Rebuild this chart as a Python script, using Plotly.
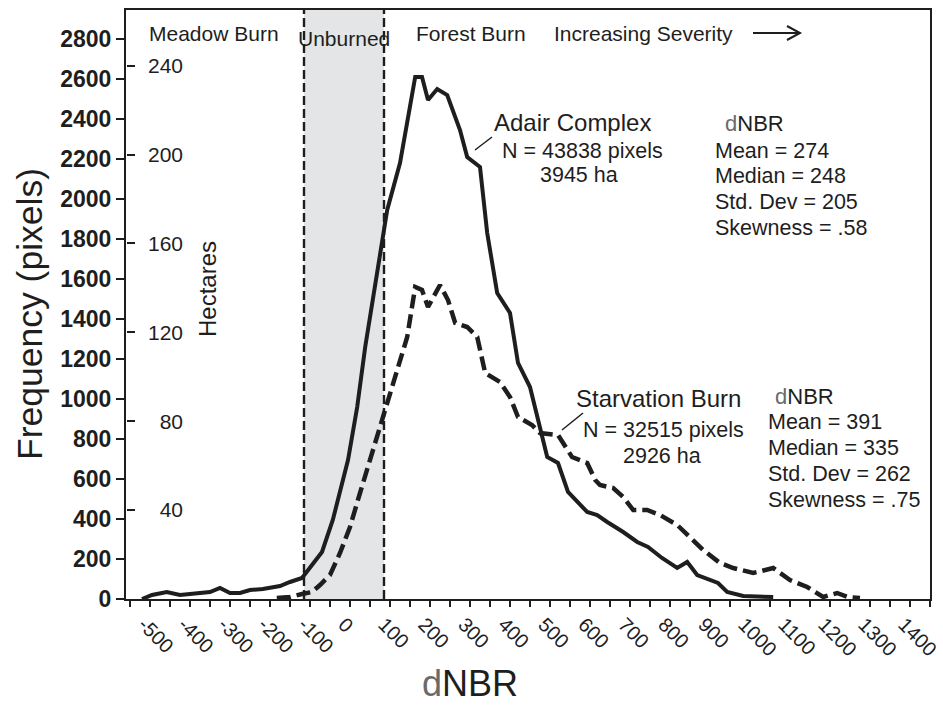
import plotly.graph_objects as go

# ---------------- data ----------------
adair_dnbr = [-505, -480, -443, -410, -360, -335, -310, -285, -260, -235, -203, -160, -135, -105,
              -80, -55, -28, 10, 33, 53, 108, 140, 178, 195, 210, 233, 258, 290, 308, 340, 358,
              383, 415, 435, 465, 490, 508, 535, 560, 608, 633, 658, 698, 733, 760, 795, 833,
              858, 883, 935, 958, 998, 1073]
adair_freq = [0, 20, 35, 20, 30, 35, 55, 30, 30, 45, 50, 65, 85, 105,
              170, 235, 395, 695, 960, 1260, 1945, 2180, 2610, 2610, 2495, 2550, 2520, 2345, 2210, 2160, 1830,
              1530, 1430, 1180, 1060, 845, 710, 680, 535, 435, 420, 385, 335, 285, 260, 205, 155,
              185, 120, 80, 35, 15, 10]

starv_dnbr = [-168, -135, -105, -80, -60, -35, -10, 15, 40, 65, 98, 123, 158, 178, 195, 210, 240,
              260, 278, 308, 333, 353, 390, 415, 435, 470, 490, 535, 548, 570, 608, 628, 640, 673,
              698, 723, 758, 790, 833, 865, 898, 940, 973, 1023, 1073, 1115, 1158, 1198, 1233,
              1260, 1290]
starv_freq = [5, 10, 25, 35, 70, 120, 230, 360, 530, 695, 895, 1060, 1310, 1560, 1545, 1460, 1570,
              1495, 1380, 1360, 1310, 1130, 1085, 1010, 910, 870, 830, 820, 780, 710, 680, 595, 570, 555,
              510, 445, 445, 420, 370, 310, 245, 180, 155, 130, 155, 95, 60, 10, 30,
              10, 5]

freq_ticks = list(range(0, 2801, 200))
hectare_ticks = [40, 80, 120, 160, 200, 240]
dnbr_ticks = list(range(-500, 1401, 100))
unburned_range = [-100, 100]

region_labels = ["Meadow Burn", "Unburned", "Forest Burn", "Increasing Severity"]

adair_name = "Adair Complex"
adair_info = ["N = 43838 pixels", "3945 ha"]
adair_stats = ["Mean = 274", "Median = 248", "Std. Dev = 205", "Skewness = .58"]

starv_name = "Starvation Burn"
starv_info = ["N = 32515 pixels", "2926 ha"]
starv_stats = ["Mean = 391", "Median = 335", "Std. Dev = 262", "Skewness = .75"]

pixels_per_ha = 43838 / 3945

# ---------------- layout geometry ----------------
W, H = 943, 706
L, R, T, B = 126, 930, 10, 599
FONT = "Liberation Sans, Arial, sans-serif"
INK = "#1e1e1e"
YMAX = 2945


def px(x):
    return (x - L) / (R - L)


def py(y):
    return (B - y) / (B - T)


fig = go.Figure()

fig.add_trace(go.Scatter(x=adair_dnbr, y=adair_freq, mode="lines",
                         line=dict(color=INK, width=4), name=adair_name, showlegend=False))
fig.add_trace(go.Scatter(x=starv_dnbr, y=starv_freq, mode="lines",
                         line=dict(color=INK, width=4.5, dash="14px,6px"), name=starv_name,
                         showlegend=False))
# placeholder traces so the hectare axes exist
fig.add_trace(go.Scatter(x=[None], y=[None], yaxis="y2", showlegend=False, hoverinfo="skip"))
fig.add_trace(go.Scatter(x=[None], y=[None], yaxis="y3", showlegend=False, hoverinfo="skip"))

shapes = []
# unburned band
shapes.append(dict(type="rect", xref="x", yref="paper", x0=unburned_range[0], x1=unburned_range[1],
                   y0=0, y1=1, fillcolor="#e4e5e6", line=dict(width=0), layer="below"))
for xv in unburned_range:
    shapes.append(dict(type="line", xref="x", yref="paper", x0=xv, x1=xv, y0=0, y1=1,
                       line=dict(color=INK, width=2.4, dash="9px,4px"), layer="above"))
# severity arrow
shapes.append(dict(type="line", xref="paper", yref="paper", x0=px(753), x1=px(799), y0=py(33), y1=py(33),
                   line=dict(color=INK, width=2)))
shapes.append(dict(type="path", xref="paper", yref="paper",
                   path=f"M {px(787)},{py(26)} L {px(800)},{py(33)} L {px(787)},{py(40)}",
                   line=dict(color=INK, width=2)))
# leader lines
shapes.append(dict(type="line", xref="paper", yref="paper", x0=px(475), y0=py(150), x1=px(492), y1=py(137),
                   line=dict(color=INK, width=1.5)))
shapes.append(dict(type="line", xref="paper", yref="paper", x0=px(562), y0=py(430), x1=px(583), y1=py(413),
                   line=dict(color=INK, width=1.5)))

ann = []


def text(t, x, y, size, xanchor="center", textangle=0, color=INK):
    ann.append(dict(text=t, x=px(x), y=py(y), xref="paper", yref="paper", showarrow=False,
                    xanchor=xanchor, yanchor="middle", textangle=textangle,
                    font=dict(family=FONT, size=size, color=color)))


# region labels
text(region_labels[0], 147, 33, 21, "left")
text(region_labels[1], 344, 38, 21)
text(region_labels[2], 414, 33, 21, "left")
text(region_labels[3], 552, 33, 21, "left")

# Adair annotation
text(adair_name, 572, 122, 24)
text(adair_info[0], 582, 151, 21.5)
text(adair_info[1], 579, 175, 21.5)
text("<span style='color:#6a6a6a'>d</span>NBR", 723, 123, 22, "left")
for i, s in enumerate(adair_stats):
    text(s, 713, 151 + 25.5 * i, 21.5, "left")

# Starvation annotation
text(starv_name, 658, 398, 24)
text(starv_info[0], 663, 430, 21.5)
text(starv_info[1], 662, 456, 21.5)
text("<span style='color:#6a6a6a'>d</span>NBR", 773, 396, 22, "left")
for i, s in enumerate(starv_stats):
    text(s, 766, 422 + 26 * i, 21.5, "left")

# axis titles
text("Frequency (pixels)", 30, 314, 35.5, textangle=-90)
text("Hectares", 207, 289, 24, textangle=-90)
text("<span style='color:#6a6a6a'>d</span>NBR", 470, 683, 36)

fig.update_layout(
    width=W, height=H, autosize=False,
    margin=dict(l=L, r=W - R, t=T, b=H - B, pad=0, autoexpand=False),
    plot_bgcolor="white", paper_bgcolor="white",
    font=dict(family=FONT, color=INK),
    showlegend=False,
    shapes=shapes, annotations=ann,
    xaxis=dict(range=[-545, 1465], tickmode="array", tickvals=dnbr_ticks,
               ticktext=[str(v) for v in dnbr_ticks], tickangle=45, ticks="",
               tickfont=dict(family=FONT, size=20, color=INK),
               minor=dict(ticks="outside", ticklen=6, tickwidth=2, tickcolor=INK,
                          tickmode="linear", tick0=-535, dtick=50, showgrid=False),
               showline=True, linecolor=INK, linewidth=2, mirror=True, automargin=False,
               ticklabeloverflow="allow",
               showgrid=False, zeroline=False, ticklabelstandoff=4),
    yaxis=dict(range=[0, YMAX], tickmode="array", tickvals=freq_ticks, ticks="outside",
               ticklen=8, tickwidth=2, tickcolor=INK, automargin=False,
               tickfont=dict(family=FONT, size=23, color=INK, weight="bold"),
               showline=True, linecolor=INK, linewidth=2, mirror=True,
               showgrid=False, zeroline=False, ticklabelstandoff=0),
    yaxis2=dict(overlaying="y", anchor="free", position=0, side="left", automargin=False,
                range=[0, YMAX / pixels_per_ha], tickmode="array", tickvals=hectare_ticks,
                ticks="inside", ticklen=8, tickwidth=2, tickcolor=INK, showticklabels=False,
                showline=False, showgrid=False, zeroline=False),
    yaxis3=dict(overlaying="y", anchor="free", position=px(183), side="left", automargin=False,
                range=[0, YMAX / pixels_per_ha], tickmode="array", tickvals=hectare_ticks,
                ticks="", showticklabels=True, tickfont=dict(family=FONT, size=21, color=INK),
                showline=False, showgrid=False, zeroline=False),
)

fig.write_html("out.html", config={"displayModeBar": False},
               post_script="document.body.style.margin='0';")
